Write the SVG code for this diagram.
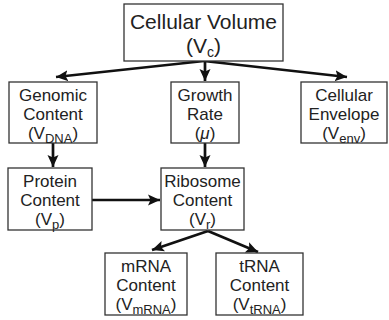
<svg xmlns="http://www.w3.org/2000/svg" width="389" height="320" viewBox="0 0 389 320">
<defs>
<style>
.box{fill:#fff;stroke:#333;stroke-width:1.3}
.t{font-family:"Liberation Sans",Arial,sans-serif;font-size:17px;fill:#222;text-anchor:middle}
.big{font-size:21px}
.sub{font-size:13px}
.c{stroke:#111;stroke-width:2.7;fill:none}
</style>
<marker id="ah" markerUnits="userSpaceOnUse" markerWidth="13" markerHeight="13" viewBox="0 0 13 13" refX="12" refY="6.5" orient="auto">
<path d="M0,1 L12,6.5 L0,12 L2.5,6.5 Z" fill="#111"/>
</marker>
</defs>
<rect width="389" height="320" fill="#fff"/>
<g id="connectors">
<line class="c" x1="204" y1="61" x2="56" y2="77" marker-end="url(#ah)"/>
<line class="c" x1="204" y1="61" x2="347" y2="77" marker-end="url(#ah)"/>
<line class="c" x1="205" y1="61" x2="205" y2="81" marker-end="url(#ah)"/>
<line class="c" x1="53" y1="143" x2="53" y2="167" marker-end="url(#ah)"/>
<line class="c" x1="205" y1="143" x2="205" y2="167" marker-end="url(#ah)"/>
<line class="c" x1="92" y1="200" x2="160" y2="200" marker-end="url(#ah)"/>
<line class="c" x1="208" y1="231" x2="152" y2="250" marker-end="url(#ah)"/>
<line class="c" x1="208" y1="231" x2="258" y2="252" marker-end="url(#ah)"/>
</g>
<g id="cellular-volume">
<rect class="box" x="124" y="4" width="159" height="57"/>
<text class="t big" x="203.5" y="29">Cellular Volume</text>
<text class="t big" x="203.5" y="53">(V<tspan font-size="14" dy="4">c</tspan><tspan dy="-4">)</tspan></text>
</g>
<g id="genomic-content">
<rect class="box" x="9" y="82" width="88" height="61"/>
<text class="t" x="53" y="101">Genomic</text>
<text class="t" x="53" y="120">Content</text>
<text class="t" x="53" y="139">(V<tspan class="sub" dy="4">DNA</tspan><tspan dy="-4">)</tspan></text>
</g>
<g id="growth-rate">
<rect class="box" x="171" y="82" width="68" height="61"/>
<text class="t" x="205" y="101">Growth</text>
<text class="t" x="205" y="120">Rate</text>
<text class="t" x="205" y="139">(<tspan font-style="italic">μ</tspan>)</text>
</g>
<g id="cellular-envelope">
<rect class="box" x="301" y="82" width="86" height="61"/>
<text class="t" x="344" y="101">Cellular</text>
<text class="t" x="344" y="120">Envelope</text>
<text class="t" x="344" y="139">(V<tspan class="sub" dy="4">env</tspan><tspan dy="-4">)</tspan></text>
</g>
<g id="protein-content">
<rect class="box" x="8" y="168" width="84" height="62"/>
<text class="t" x="50" y="187">Protein</text>
<text class="t" x="50" y="206">Content</text>
<text class="t" x="50" y="225">(V<tspan class="sub" dy="4">p</tspan><tspan dy="-4">)</tspan></text>
</g>
<g id="ribosome-content">
<rect class="box" x="161" y="168" width="83" height="62"/>
<text class="t" x="202.5" y="187">Ribosome</text>
<text class="t" x="202.5" y="206">Content</text>
<text class="t" x="202.5" y="225">(V<tspan class="sub" dy="4">r</tspan><tspan dy="-4">)</tspan></text>
</g>
<g id="mrna-content">
<rect class="box" x="105" y="253" width="82" height="62"/>
<text class="t" x="146" y="272">mRNA</text>
<text class="t" x="146" y="291">Content</text>
<text class="t" x="146" y="310">(V<tspan class="sub" dy="4">mRNA</tspan><tspan dy="-4">)</tspan></text>
</g>
<g id="trna-content">
<rect class="box" x="216" y="253" width="87" height="62"/>
<text class="t" x="259.5" y="272">tRNA</text>
<text class="t" x="259.5" y="291">Content</text>
<text class="t" x="259.5" y="310">(V<tspan class="sub" dy="4">tRNA</tspan><tspan dy="-4">)</tspan></text>
</g>
</svg>
